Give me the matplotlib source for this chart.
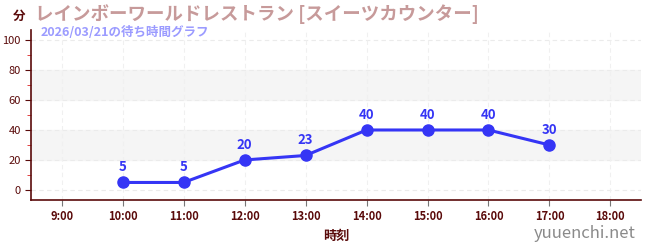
import matplotlib
matplotlib.use("Agg")
import matplotlib.pyplot as plt
from matplotlib.ticker import MultipleLocator

plt.rcParams['font.family'] = ['Noto Sans CJK JP', 'DejaVu Sans']

hours = [9, 10, 11, 12, 13, 14, 15, 16, 17, 18]
hour_labels = ['9:00', '10:00', '11:00', '12:00', '13:00', '14:00', '15:00', '16:00', '17:00', '18:00']
wait_x = [10, 11, 12, 13, 14, 15, 16, 17]
wait_min = [5, 5, 20, 23, 40, 40, 40, 30]

axis_col = '#5a0a0a'
line_col = '#3535f5'

fig = plt.figure(figsize=(6.5, 2.5), dpi=100)
ax = fig.add_axes([0.048, 0.2, 0.938, 0.68])
ax.set_xlim(8.5, 18.5)
ax.set_ylim(-6.7, 106.7)

# light bands
for lo, hi in [(20, 40), (60, 80)]:
    ax.axhspan(lo, hi, color='#f5f5f5', zorder=0)
for y in [0, 20, 40, 60, 80, 100]:
    ax.axhline(y, color='#ebebeb', lw=0.8, ls=(0, (4, 3)), zorder=1)
for x in hours:
    ax.axvline(x, color='#f0f0f0', lw=0.8, ls=(0, (4, 3)), zorder=1)

ax.plot(wait_x, wait_min, color=line_col, lw=2.2, marker='o', ms=8, zorder=3)
for x, v in zip(wait_x, wait_min):
    ax.annotate(str(v), (x, v), xytext=(0, 6), textcoords='offset points',
                ha='center', va='bottom', color=line_col, fontsize=9.5, fontweight='bold')

ax.set_xticks(hours)
ax.set_xticklabels(hour_labels)
ax.set_yticks([0, 20, 40, 60, 80, 100])
ax.yaxis.set_minor_locator(MultipleLocator(10))
ax.tick_params(axis='x', colors='#777777', labelcolor=axis_col, labelsize=8, length=4)
for lbl in ax.get_xticklabels():
    lbl.set_fontweight('bold')
ax.tick_params(axis='y', which='major', colors=axis_col, labelsize=8, length=4)
ax.tick_params(axis='y', which='minor', colors='#dd2222', length=3)
for s in ['top', 'right']:
    ax.spines[s].set_visible(False)
for s in ['left', 'bottom']:
    ax.spines[s].set_color(axis_col)
    ax.spines[s].set_linewidth(1.2)
ax.set_xlabel('時刻', color=axis_col, fontsize=9.5, fontweight='bold', labelpad=4)

fig.text(0.02, 0.935, '分', color=axis_col, fontsize=9, fontweight='bold', va='center')
fig.text(0.054, 0.945, 'レインボーワールドレストラン [スイーツカウンター]', color='#c79a9a',
         fontsize=13.3, fontweight='bold', va='center')
fig.text(0.063, 0.872, '2026/03/21の待ち時間グラフ', color='#9b9bff', fontsize=9,
         fontweight='bold', va='center')
fig.text(0.978, 0.065, 'yuuenchi.net', color='#8a8a8a', fontsize=12, ha='right', va='center')

fig.savefig('out.png', dpi=100)
